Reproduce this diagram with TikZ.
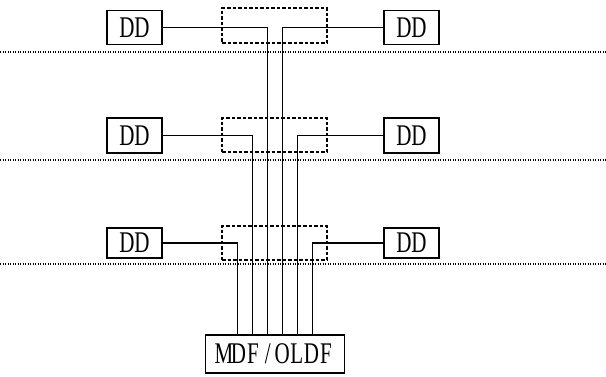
\documentclass[tikz,border=0pt]{standalone}
\usepackage{fontspec}
\newfontfamily\reffont[FakeStretch=0.7]{Liberation Serif}
\newcommand\fw[1]{\makebox[14.6pt]{#1}}
\begin{document}
\begin{tikzpicture}[x=1pt,y=-1pt,
  ddbox/.style={draw,line width=1.3pt,minimum width=55pt,inner sep=0pt,font=\reffont\fontsize{30}{30}\selectfont},
  dbox/.style={draw,dashed,dash pattern=on 3.5pt off 2pt,line width=1.1pt,minimum width=105pt,inner sep=0pt},
  sep/.style={line width=1.1pt,dash pattern=on 1.2pt off 1.3pt},
  wire/.style={line width=1.3pt},
  thickwire/.style={line width=1.9pt}]
\useasboundingbox (0,0) rectangle (606,376);
% separators
\coordinate (s1a) at (0,52); \coordinate (s1b) at (606,52);
\coordinate (s2a) at (0,160); \coordinate (s2b) at (606,160);
\coordinate (s3a) at (0,264); \coordinate (s3b) at (606,264);
\draw[sep] (s1a) -- (s1b);
\draw[sep] (s2a) -- (s2b);
\draw[sep] (s3a) -- (s3b);
% dashed boxes
\node[dbox,minimum height=35pt] (b1) at (274.5,25.5) {};
\node[dbox,minimum height=34pt] (b2) at (274.5,135) {};
\node[dbox,minimum height=34pt] (b3) at (274.5,243) {};
% DD boxes
\node[ddbox,minimum height=34pt] (tl) at (134.5,27.5) {DD};
\node[ddbox,minimum height=34pt] (tr) at (411.5,27.5) {DD};
\node[ddbox,minimum height=35pt] (ml) at (134.5,135.5) {DD};
\node[ddbox,minimum height=35pt] (mr) at (411.5,135.5) {DD};
\node[ddbox,minimum height=30pt] (bl) at (134.5,243) {DD};
\node[ddbox,minimum height=30pt] (br) at (411.5,243) {DD};
% MDF
\node[draw,line width=1.3pt,minimum width=139pt,minimum height=38pt,inner sep=0pt,
  font=\reffont\fontsize{30}{30}\selectfont] (mdf) at (275,354)
  {\fw{M}\fw{D}\fw{F}\fw{/}\fw{O}\fw{L}\fw{D}\fw{F}};
% wires
\draw[wire] (tl.east) -| ([xshift=-7.5pt]mdf.north);
\draw[thickwire] (tr.west) -| ([xshift=7.5pt]mdf.north);
\draw[wire] (ml.east) -| ([xshift=-22.5pt]mdf.north);
\draw[wire] (mr.west) -| ([xshift=22.5pt]mdf.north);
\draw[thickwire] (bl.east) -| ([xshift=-37.5pt]mdf.north);
\draw[thickwire] (br.west) -| ([xshift=37.5pt]mdf.north);
\end{tikzpicture}
\end{document}
